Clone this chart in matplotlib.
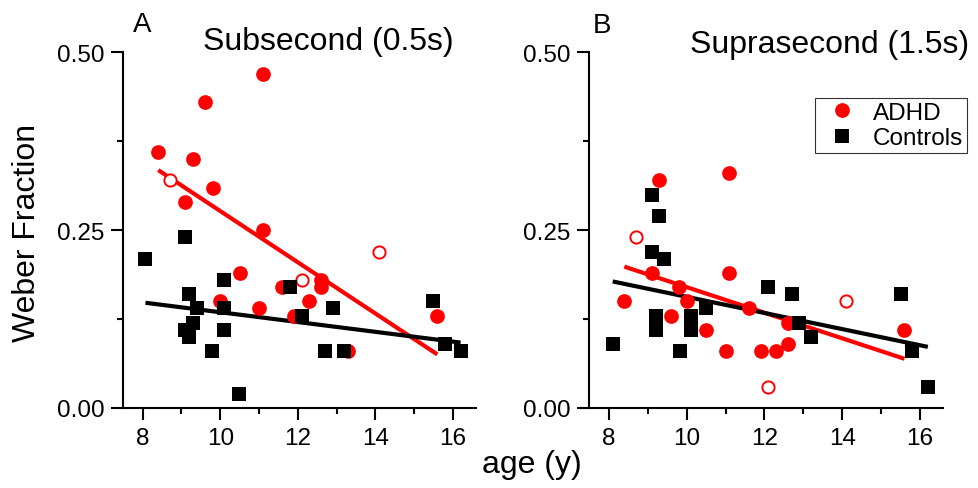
import numpy as np
import matplotlib.pyplot as plt
from matplotlib.lines import Line2D
from matplotlib.ticker import MultipleLocator, FormatStrFormatter

plt.rcParams['font.family'] = ['Liberation Sans', 'DejaVu Sans']

# panel A, subsecond (0.5s)
sub_adhd_age = [8.4, 9.1, 9.3, 9.6, 9.8, 11.1, 11.1, 10.5, 10.0, 11.0, 11.6, 11.9, 12.6, 12.6, 12.3, 13.3, 15.6]
sub_adhd_wf = [0.36, 0.29, 0.35, 0.43, 0.31, 0.47, 0.25, 0.19, 0.15, 0.14, 0.17, 0.13, 0.18, 0.17, 0.15, 0.08, 0.13]
sub_open_age = [8.7, 12.1, 14.1]
sub_open_wf = [0.32, 0.18, 0.22]
sub_ctrl_age = [8.07, 9.09, 9.1, 9.19, 9.19, 9.29, 9.39, 9.78, 10.09, 10.09, 10.09, 10.49, 11.79, 12.1, 12.7, 12.9, 13.19, 15.5, 15.8, 16.2]
sub_ctrl_wf = [0.21, 0.24, 0.11, 0.16, 0.10, 0.12, 0.14, 0.08, 0.18, 0.14, 0.11, 0.02, 0.17, 0.13, 0.08, 0.14, 0.08, 0.15, 0.09, 0.08]
sub_fit_adhd = [-0.0360, 0.637]   # slope, intercept
sub_fit_ctrl = [-0.00689, 0.2036]

# panel B, suprasecond (1.5s)
supra_adhd_age = [9.3, 11.1, 9.1, 11.1, 9.8, 8.4, 10.0, 9.6, 10.5, 11.0, 11.9, 11.6, 12.3, 12.6, 12.6, 15.6]
supra_adhd_wf = [0.32, 0.33, 0.19, 0.19, 0.17, 0.15, 0.15, 0.13, 0.11, 0.08, 0.08, 0.14, 0.08, 0.09, 0.12, 0.11]
supra_open_age = [8.7, 12.1, 14.1]
supra_open_wf = [0.24, 0.03, 0.15]
supra_ctrl_age = [8.1, 9.12, 9.3, 9.11, 9.41, 9.22, 9.22, 10.1, 10.1, 10.5, 9.82, 12.1, 12.7, 12.9, 13.2, 15.5, 15.8, 16.2]
supra_ctrl_wf = [0.09, 0.30, 0.27, 0.22, 0.21, 0.13, 0.11, 0.13, 0.11, 0.14, 0.08, 0.17, 0.16, 0.12, 0.10, 0.16, 0.08, 0.03]
supra_fit_adhd = [-0.0180, 0.350]
supra_fit_ctrl = [-0.01136, 0.270]

RED = '#ff0000'


def fitLine(ax, ages, fit, color):
    x = np.array([min(ages), max(ages)])
    ax.plot(x, fit[0]*x + fit[1], color=color, lw=3, solid_capstyle='butt', zorder=2)


def drawPanel(ax, adhd_age, adhd_wf, open_age, open_wf, ctrl_age, ctrl_wf, fit_adhd, fit_ctrl):
    fitLine(ax, list(adhd_age) + list(open_age), fit_adhd, RED)
    fitLine(ax, ctrl_age, fit_ctrl, 'black')
    ax.plot(adhd_age, adhd_wf, 'o', color=RED, ms=10.6, mew=0, zorder=3)
    ax.plot(open_age, open_wf, 'o', mfc='white', mec=RED, ms=8.8, mew=1.4, zorder=3)
    ax.plot(ctrl_age, ctrl_wf, 's', color='black', ms=9.6, mew=0, zorder=4)

    ax.set_xlim(7.5, 16.6)
    ax.set_ylim(0, 0.5)
    ax.spines['top'].set_visible(False)
    ax.spines['right'].set_visible(False)
    for s in ['left', 'bottom']:
        ax.spines[s].set_linewidth(1.5)
    ax.xaxis.set_major_locator(MultipleLocator(2))
    ax.xaxis.set_minor_locator(MultipleLocator(1))
    ax.yaxis.set_major_locator(MultipleLocator(0.25))
    ax.yaxis.set_minor_locator(MultipleLocator(0.125))
    ax.yaxis.set_major_formatter(FormatStrFormatter('%.2f'))
    ax.tick_params(which='major', length=8.6, width=1.5, labelsize=17.5, pad=5)
    ax.tick_params(which='minor', length=4.5, width=1.5)


fig = plt.figure(figsize=(9.79, 4.89), dpi=100)
axA = fig.add_axes([0.126, 0.1636, 0.3603, 0.727])
axB = fig.add_axes([0.602, 0.1636, 0.3616, 0.727])

drawPanel(axA, sub_adhd_age, sub_adhd_wf, sub_open_age, sub_open_wf,
          sub_ctrl_age, sub_ctrl_wf, sub_fit_adhd, sub_fit_ctrl)
drawPanel(axB, supra_adhd_age, supra_adhd_wf, supra_open_age, supra_open_wf,
          supra_ctrl_age, supra_ctrl_wf, supra_fit_adhd, supra_fit_ctrl)

fig.text(133/979, 1-32/489, 'A', fontsize=20, va='baseline')
fig.text(593/979, 1-33/489, 'B', fontsize=20, va='baseline')
fig.text(203/979, 1-50/489, 'Subsecond (0.5s)', fontsize=23, va='baseline')
fig.text(690/979, 1-53/489, 'Suprasecond (1.5s)', fontsize=23, va='baseline')
fig.text(27/979, 1-233/489, 'Weber Fraction', fontsize=23, rotation=90, ha='center', va='center')
fig.text(532/979, 1-465/489, 'age (y)', fontsize=23, ha='center', va='center')

handles = [Line2D([], [], ls='none', marker='o', color=RED, ms=10.6, mew=0),
           Line2D([], [], ls='none', marker='s', color='black', ms=9.6, mew=0)]
leg = fig.legend(handles, ['ADHD', 'Controls'], loc='upper right',
                 bbox_to_anchor=(967/979, 1-99/489), fontsize=17.5,
                 frameon=True, fancybox=False, borderpad=0.15, labelspacing=0.15,
                 handlelength=1.9, handletextpad=0.35, borderaxespad=0)
leg.get_frame().set_edgecolor('black')
leg.get_frame().set_linewidth(0.8)

fig.savefig('out.png', dpi=100)
